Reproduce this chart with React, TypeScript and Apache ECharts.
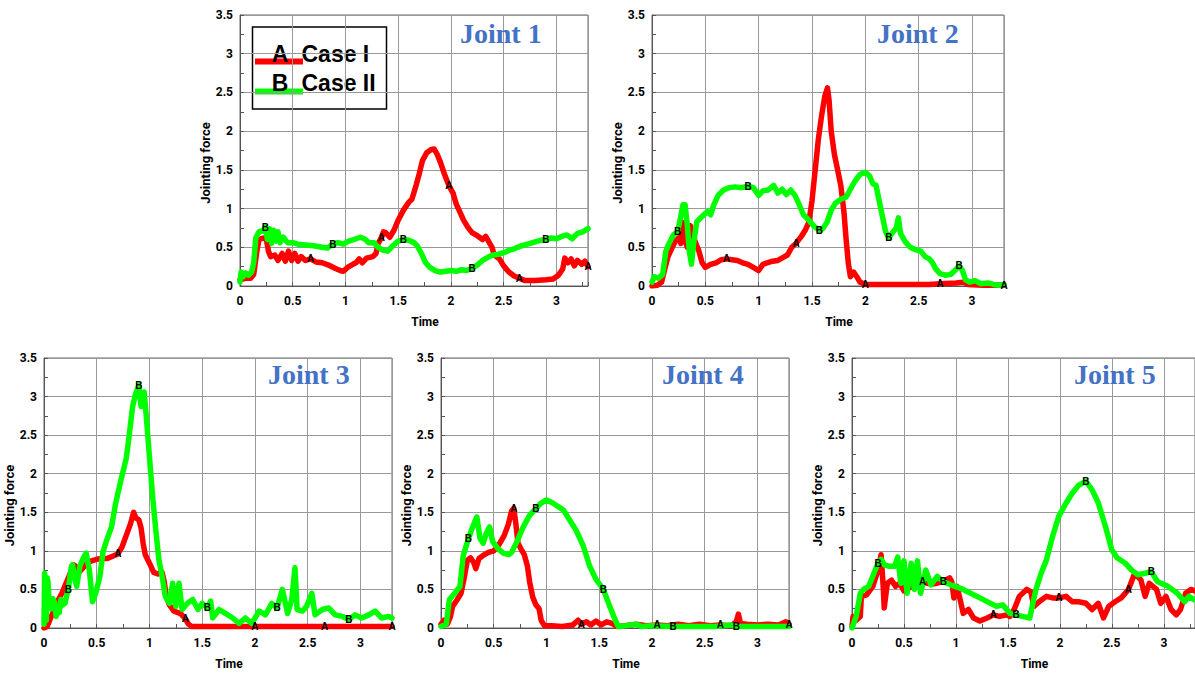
import React, { useEffect, useRef } from 'react';
import * as echarts from 'echarts';

// ---------- data: [time, jointing force] ----------
const J1_CASE1: number[][] = [[0,0.08],[0.05,0.1],[0.1,0.1],[0.13,0.15],[0.16,0.45],[0.18,0.6],[0.22,0.62],[0.25,0.6],[0.27,0.45],[0.29,0.38],[0.33,0.4],[0.36,0.33],[0.4,0.42],[0.43,0.32],[0.46,0.45],[0.49,0.33],[0.52,0.42],[0.55,0.32],[0.58,0.38],[0.62,0.33],[0.67,0.35],[0.72,0.31],[0.78,0.3],[0.84,0.27],[0.9,0.23],[0.95,0.2],[0.98,0.19],[1.02,0.24],[1.07,0.28],[1.1,0.3],[1.13,0.35],[1.16,0.3],[1.2,0.36],[1.26,0.38],[1.29,0.42],[1.31,0.55],[1.34,0.62],[1.36,0.7],[1.38,0.69],[1.42,0.63],[1.46,0.72],[1.5,0.85],[1.55,0.98],[1.6,1.08],[1.63,1.12],[1.67,1.3],[1.7,1.45],[1.73,1.62],[1.77,1.72],[1.81,1.76],[1.84,1.77],[1.87,1.7],[1.9,1.6],[1.94,1.44],[1.98,1.3],[2.02,1.2],[2.05,1.06],[2.09,0.94],[2.12,0.85],[2.16,0.76],[2.2,0.69],[2.25,0.65],[2.3,0.6],[2.33,0.64],[2.36,0.57],[2.39,0.5],[2.41,0.4],[2.46,0.35],[2.5,0.26],[2.55,0.18],[2.6,0.13],[2.65,0.1],[2.7,0.07],[2.8,0.07],[2.9,0.08],[2.97,0.09],[3.02,0.14],[3.06,0.22],[3.08,0.36],[3.11,0.3],[3.14,0.35],[3.17,0.26],[3.2,0.33],[3.24,0.28],[3.27,0.32],[3.3,0.25]];
const J1_CASE2: number[][] = [[0,0.05],[0.01,0.18],[0.03,0.12],[0.05,0.17],[0.08,0.14],[0.11,0.18],[0.13,0.3],[0.15,0.62],[0.18,0.7],[0.22,0.72],[0.24,0.76],[0.26,0.6],[0.28,0.74],[0.3,0.55],[0.32,0.72],[0.34,0.58],[0.36,0.7],[0.38,0.56],[0.41,0.63],[0.45,0.56],[0.5,0.56],[0.55,0.54],[0.62,0.53],[0.7,0.52],[0.78,0.5],[0.83,0.49],[0.88,0.54],[0.93,0.56],[0.98,0.54],[1.03,0.58],[1.08,0.6],[1.14,0.63],[1.18,0.61],[1.22,0.56],[1.27,0.56],[1.31,0.5],[1.36,0.46],[1.4,0.45],[1.45,0.52],[1.5,0.58],[1.55,0.6],[1.6,0.59],[1.65,0.56],[1.68,0.52],[1.72,0.42],[1.76,0.3],[1.8,0.24],[1.85,0.2],[1.9,0.18],[1.95,0.19],[2.0,0.2],[2.05,0.19],[2.1,0.21],[2.15,0.2],[2.2,0.23],[2.25,0.27],[2.3,0.33],[2.35,0.37],[2.4,0.4],[2.45,0.41],[2.5,0.43],[2.55,0.46],[2.6,0.48],[2.65,0.51],[2.7,0.53],[2.75,0.55],[2.8,0.57],[2.85,0.59],[2.9,0.6],[2.95,0.62],[3.0,0.61],[3.05,0.64],[3.1,0.66],[3.15,0.61],[3.2,0.68],[3.25,0.7],[3.3,0.74]];

const J2_CASE1: number[][] = [[0,0],[0.05,0.01],[0.09,0.05],[0.12,0.22],[0.15,0.38],[0.19,0.5],[0.22,0.58],[0.25,0.62],[0.27,0.55],[0.29,0.82],[0.31,0.6],[0.33,0.5],[0.36,0.78],[0.38,0.68],[0.41,0.55],[0.44,0.45],[0.47,0.3],[0.5,0.24],[0.55,0.28],[0.6,0.3],[0.65,0.34],[0.7,0.35],[0.75,0.34],[0.8,0.33],[0.85,0.3],[0.9,0.28],[0.95,0.24],[1.0,0.2],[1.04,0.28],[1.08,0.3],[1.13,0.32],[1.18,0.33],[1.23,0.37],[1.27,0.4],[1.31,0.5],[1.35,0.55],[1.4,0.64],[1.44,0.73],[1.47,0.82],[1.5,1.1],[1.53,1.5],[1.56,1.9],[1.59,2.2],[1.62,2.45],[1.645,2.56],[1.66,2.4],[1.68,2.0],[1.71,1.7],[1.74,1.5],[1.77,1.3],[1.8,0.95],[1.82,0.6],[1.84,0.3],[1.86,0.12],[1.89,0.18],[1.92,0.12],[1.95,0.05],[2.0,0.02],[2.2,0.02],[2.4,0.02],[2.6,0.02],[2.7,0.03],[2.85,0.04],[2.92,0.05],[2.96,0.02],[3.1,0.01],[3.3,0.01]];
const J2_CASE2: number[][] = [[0,0.05],[0.02,0.12],[0.06,0.1],[0.1,0.15],[0.13,0.45],[0.16,0.55],[0.2,0.66],[0.24,0.7],[0.27,0.9],[0.29,1.05],[0.31,1.05],[0.33,0.8],[0.35,0.45],[0.37,0.28],[0.39,0.55],[0.42,0.83],[0.47,0.9],[0.52,0.96],[0.55,0.92],[0.58,1.05],[0.62,1.17],[0.67,1.24],[0.72,1.27],[0.78,1.28],[0.84,1.27],[0.9,1.29],[0.95,1.27],[1.0,1.17],[1.04,1.23],[1.09,1.24],[1.14,1.3],[1.18,1.2],[1.22,1.25],[1.26,1.18],[1.3,1.24],[1.34,1.17],[1.38,1.05],[1.42,0.92],[1.47,0.85],[1.52,0.77],[1.57,0.72],[1.6,0.74],[1.64,0.82],[1.68,0.98],[1.72,1.07],[1.77,1.12],[1.82,1.15],[1.86,1.25],[1.9,1.35],[1.95,1.44],[2.0,1.47],[2.04,1.42],[2.07,1.32],[2.1,1.3],[2.13,1.1],[2.16,0.9],[2.19,0.7],[2.22,0.62],[2.26,0.7],[2.29,0.75],[2.31,0.88],[2.33,0.68],[2.37,0.58],[2.42,0.5],[2.47,0.47],[2.52,0.45],[2.56,0.38],[2.6,0.35],[2.63,0.3],[2.66,0.22],[2.7,0.16],[2.75,0.14],[2.8,0.15],[2.84,0.2],[2.88,0.26],[2.91,0.2],[2.94,0.08],[2.98,0.05],[3.03,0.07],[3.08,0.03],[3.15,0.04],[3.2,0.02],[3.25,0.01],[3.3,0.02]];

const J3_CASE1: number[][] = [[0,0],[0.03,0.02],[0.06,0.12],[0.1,0.25],[0.13,0.35],[0.17,0.45],[0.2,0.55],[0.24,0.68],[0.28,0.82],[0.3,0.8],[0.33,0.72],[0.37,0.78],[0.41,0.84],[0.45,0.87],[0.5,0.89],[0.55,0.9],[0.6,0.9],[0.65,0.93],[0.7,0.96],[0.74,1.05],[0.78,1.2],[0.82,1.35],[0.85,1.5],[0.87,1.43],[0.9,1.4],[0.92,1.3],[0.94,1.1],[0.96,0.95],[1.0,0.84],[1.04,0.72],[1.08,0.7],[1.12,0.72],[1.14,0.6],[1.16,0.4],[1.19,0.3],[1.23,0.22],[1.27,0.2],[1.3,0.18],[1.34,0.12],[1.37,0.05],[1.4,0.02],[1.6,0.02],[2.0,0.02],[2.33,0.02],[2.66,0.02],[3.0,0.02],[3.3,0.02]];
const J3_CASE2: number[][] = [[0,0.05],[0.006,0.71],[0.015,0.5],[0.022,0.1],[0.03,0.65],[0.038,0.6],[0.05,0.3],[0.069,0.25],[0.085,0.38],[0.1,0.33],[0.115,0.15],[0.13,0.27],[0.145,0.2],[0.16,0.37],[0.18,0.3],[0.2,0.32],[0.215,0.42],[0.23,0.5],[0.26,0.8],[0.27,0.82],[0.29,0.65],[0.31,0.54],[0.34,0.8],[0.37,0.9],[0.4,0.97],[0.43,0.75],[0.46,0.34],[0.49,0.45],[0.53,0.67],[0.56,0.99],[0.59,1.12],[0.64,1.31],[0.68,1.62],[0.73,1.92],[0.78,2.2],[0.81,2.52],[0.84,2.87],[0.87,3.04],[0.9,3.15],[0.92,2.87],[0.95,3.06],[0.97,2.74],[1.0,2.22],[1.03,1.7],[1.06,1.27],[1.09,0.88],[1.12,0.67],[1.15,0.41],[1.19,0.32],[1.22,0.58],[1.25,0.28],[1.28,0.58],[1.31,0.24],[1.36,0.32],[1.41,0.37],[1.46,0.24],[1.5,0.32],[1.55,0.26],[1.58,0.35],[1.6,0.13],[1.66,0.24],[1.72,0.19],[1.79,0.13],[1.85,0.06],[1.91,0.13],[1.97,0.06],[2.04,0.22],[2.1,0.17],[2.16,0.32],[2.21,0.26],[2.26,0.5],[2.31,0.19],[2.35,0.37],[2.38,0.78],[2.4,0.24],[2.45,0.22],[2.49,0.28],[2.54,0.45],[2.57,0.17],[2.64,0.24],[2.7,0.26],[2.76,0.17],[2.83,0.15],[2.89,0.11],[2.95,0.17],[3.01,0.13],[3.08,0.17],[3.14,0.22],[3.2,0.13],[3.27,0.15],[3.3,0.13]];

const J4_CASE1: number[][] = [[0,0.05],[0.03,0.1],[0.06,0.05],[0.09,0.15],[0.11,0.28],[0.15,0.36],[0.19,0.45],[0.22,0.65],[0.25,0.88],[0.28,0.91],[0.31,0.85],[0.33,0.77],[0.36,0.9],[0.4,0.94],[0.45,0.98],[0.5,1.0],[0.55,1.08],[0.6,1.2],[0.64,1.35],[0.67,1.52],[0.69,1.55],[0.71,1.35],[0.73,1.1],[0.76,1.02],[0.79,0.95],[0.82,0.8],[0.84,0.6],[0.87,0.4],[0.9,0.3],[0.93,0.25],[0.95,0.1],[0.98,0.03],[1.05,0.03],[1.15,0.02],[1.25,0.04],[1.3,0.1],[1.33,0.05],[1.38,0.08],[1.42,0.04],[1.47,0.09],[1.52,0.04],[1.57,0.08],[1.62,0.06],[1.67,0.02],[1.75,0.03],[1.85,0.05],[1.95,0.03],[2.05,0.04],[2.15,0.03],[2.25,0.05],[2.35,0.03],[2.45,0.05],[2.55,0.03],[2.65,0.04],[2.75,0.03],[2.8,0.08],[2.82,0.18],[2.84,0.06],[2.9,0.05],[3.0,0.04],[3.1,0.05],[3.2,0.04],[3.27,0.08],[3.3,0.05]];
const J4_CASE2: number[][] = [[0,0.02],[0.05,0.05],[0.08,0.37],[0.13,0.45],[0.18,0.54],[0.21,0.93],[0.26,1.16],[0.3,1.31],[0.34,1.44],[0.37,1.16],[0.4,1.1],[0.43,1.23],[0.46,1.31],[0.49,1.12],[0.54,1.03],[0.59,0.97],[0.64,0.95],[0.67,0.98],[0.72,1.12],[0.78,1.31],[0.84,1.46],[0.9,1.55],[0.95,1.62],[1.0,1.66],[1.06,1.62],[1.16,1.53],[1.22,1.4],[1.28,1.27],[1.35,1.06],[1.41,0.8],[1.47,0.63],[1.54,0.5],[1.6,0.28],[1.65,0.11],[1.68,0.02],[1.75,0.03],[1.85,0.05],[1.9,0.02],[2.0,0.03],[2.2,0.02],[2.4,0.02],[2.6,0.02],[2.75,0.04],[2.8,0.02],[3.0,0.02],[3.3,0.02]];

const J5_CASE1: number[][] = [[0,0.02],[0.01,0.15],[0.04,0.1],[0.08,0.15],[0.09,0.41],[0.14,0.43],[0.2,0.54],[0.25,0.75],[0.28,0.95],[0.3,0.54],[0.31,0.26],[0.34,0.58],[0.38,0.62],[0.42,0.54],[0.46,0.58],[0.5,0.48],[0.55,0.52],[0.6,0.55],[0.65,0.58],[0.68,0.6],[0.72,0.58],[0.77,0.57],[0.82,0.58],[0.86,0.6],[0.9,0.62],[0.94,0.65],[0.96,0.6],[0.98,0.39],[1.01,0.54],[1.04,0.37],[1.07,0.19],[1.12,0.24],[1.17,0.13],[1.23,0.09],[1.3,0.13],[1.36,0.17],[1.42,0.15],[1.49,0.17],[1.52,0.15],[1.56,0.24],[1.61,0.41],[1.68,0.5],[1.72,0.47],[1.75,0.28],[1.8,0.34],[1.87,0.41],[1.93,0.39],[1.99,0.39],[2.06,0.41],[2.12,0.34],[2.18,0.34],[2.25,0.32],[2.31,0.24],[2.37,0.32],[2.42,0.13],[2.47,0.28],[2.53,0.34],[2.59,0.39],[2.66,0.5],[2.72,0.71],[2.78,0.62],[2.82,0.41],[2.86,0.58],[2.93,0.5],[2.97,0.32],[3.02,0.41],[3.07,0.24],[3.12,0.17],[3.16,0.24],[3.21,0.45],[3.26,0.5],[3.3,0.48]];
const J5_CASE2: number[][] = [[0,0],[0.04,0.15],[0.08,0.45],[0.11,0.5],[0.16,0.54],[0.2,0.67],[0.25,0.84],[0.28,0.89],[0.31,0.82],[0.36,0.8],[0.41,0.8],[0.44,0.92],[0.47,0.58],[0.5,0.87],[0.53,0.45],[0.57,0.84],[0.6,0.5],[0.63,0.87],[0.66,0.45],[0.71,0.75],[0.76,0.56],[0.82,0.67],[0.88,0.6],[0.95,0.56],[1.07,0.5],[1.23,0.39],[1.39,0.28],[1.45,0.3],[1.52,0.19],[1.58,0.17],[1.64,0.15],[1.71,0.13],[1.74,0.32],[1.77,0.5],[1.82,0.71],[1.87,0.88],[1.93,1.19],[1.99,1.45],[2.06,1.62],[2.12,1.75],[2.18,1.85],[2.25,1.9],[2.31,1.79],[2.37,1.62],[2.44,1.31],[2.5,1.01],[2.55,0.91],[2.63,0.84],[2.69,0.75],[2.75,0.69],[2.82,0.71],[2.88,0.73],[2.94,0.6],[3.04,0.54],[3.13,0.45],[3.2,0.34],[3.24,0.41],[3.3,0.36]];

const TITLES = ['Joint 1', 'Joint 2', 'Joint 3', 'Joint 4', 'Joint 5'];
const CASE_NAMES = ['Case I', 'Case II'];
const CASE_LETTERS = ['A', 'B'];
const CASE1 = [J1_CASE1, J2_CASE1, J3_CASE1, J4_CASE1, J5_CASE1];
const CASE2 = [J1_CASE2, J2_CASE2, J3_CASE2, J4_CASE2, J5_CASE2];
const MARK_A = [0.68, 1.34, 2.0, 2.66, 3.3];
const MARK_B = [0.24, 0.9, 1.56, 2.22, 2.88];
const X_MAX = 3.3;
const Y_MAX = 3.5;

// ---------- layout ----------
const PAGE_W = 1195;
const GRIDS = [
  { left: 240, top: 15, width: 348, height: 271 },
  { left: 652, top: 15, width: 352, height: 271 },
  { left: 44, top: 358, width: 348, height: 270 },
  { left: 441, top: 358, width: 348, height: 270 },
  { left: 852, top: 358, width: 347, height: 270 },
];
const TITLE_POS = [
  [460, 36], [877, 36], [268, 377], [662, 377], [1074, 377],
];
const RED = '#ff0000';
const GREEN = '#00ff00';

function nearest(data: number[][], t: number): number[] {
  let best = data[0];
  for (const p of data) if (Math.abs(p[0] - t) < Math.abs(best[0] - t)) best = p;
  return best;
}

export default function App() {
  const ref = useRef<HTMLDivElement>(null);
  useEffect(() => {
    if (!ref.current) return;
    const chart = echarts.init(ref.current, null, { renderer: 'svg' });
    const tickStyle = { fontFamily: 'Roboto', fontWeight: 'bold' as const, fontSize: 12, color: '#000' };
    const xAxis: any[] = [];
    const yAxis: any[] = [];
    const series: any[] = [];
    const graphic: any[] = [];
    GRIDS.forEach((g, i) => {
      xAxis.push({
        type: 'value', gridIndex: i, min: 0, max: X_MAX, interval: 0.5,
        name: 'Time', nameLocation: 'middle', nameGap: 30,
        nameTextStyle: { ...tickStyle, padding: [0, 0, 0, 22] },
        axisLine: { show: true, lineStyle: { color: '#555', width: 1 } },
        axisTick: { show: true, inside: true, length: 4, lineStyle: { color: '#555' } },
        minorTick: { show: true, splitNumber: 2, length: 4, lineStyle: { color: '#555' } },
        axisLabel: { ...tickStyle, margin: 9, showMaxLabel: false },
        splitLine: { show: true, lineStyle: { color: '#999', width: 1 } },
      });
      yAxis.push({
        type: 'value', gridIndex: i, min: 0, max: Y_MAX, interval: 0.5,
        name: 'Jointing force', nameLocation: 'middle', nameGap: 25, nameRotate: 90,
        nameTextStyle: { ...tickStyle, fontSize: 13, padding: [0, 25, 0, 0] },
        axisLine: { show: true, lineStyle: { color: '#555', width: 1 } },
        axisTick: { show: true, inside: true, length: 4, lineStyle: { color: '#555' } },
        minorTick: { show: true, splitNumber: 2, length: 4, lineStyle: { color: '#555' } },
        axisLabel: { ...tickStyle, margin: 7 },
        splitLine: { show: true, lineStyle: { color: '#999', width: 1 } },
      });
      const sets = [CASE1[i], CASE2[i]];
      const colors = [RED, GREEN];
      const marks = [MARK_A, MARK_B];
      const visibleMax = ((PAGE_W - g.left) / g.width) * X_MAX;
      sets.forEach((d, k) => {
        series.push({
          type: 'line', name: CASE_NAMES[k], xAxisIndex: i, yAxisIndex: i, data: d,
          showSymbol: false, z: 2 + k,
          lineStyle: { color: colors[k], width: 5.5, join: 'round', cap: 'round' },
          itemStyle: { color: colors[k] },
        });
      });
      sets.forEach((d, k) => {
        const letter = CASE_LETTERS[k];
        series.push({
          type: 'custom', name: CASE_NAMES[k] + ' marks', xAxisIndex: i, yAxisIndex: i,
          coordinateSystem: 'cartesian2d', z: 10, clip: false,
          data: marks[k].filter((t) => t <= visibleMax - 0.02).map((t) => nearest(d, t)),
          renderItem: (_p: any, api: any) => {
            const pt = api.coord([api.value(0), api.value(1)]);
            return {
              type: 'text', x: pt[0], y: pt[1],
              style: {
                text: letter, fill: '#000', fontSize: 10, fontWeight: 'bold', fontFamily: 'Liberation Sans',
                align: 'center', verticalAlign: 'middle',
              },
            };
          },
        });
      });
      graphic.push({
        type: 'text', left: TITLE_POS[i][0], top: TITLE_POS[i][1] - 17, z: 100,
        style: {
          text: TITLES[i], fontFamily: 'Liberation Serif', fontWeight: 'bold', fontSize: 28,
          fill: '#4472C4',
        },
      });
    });
    // legend box in Joint 1
    const legendFont = { fontFamily: 'Liberation Sans', fontWeight: 'bold', fontSize: 23, fill: '#000', verticalAlign: 'middle' };
    graphic.push({
      type: 'group', z: 100,
      children: [
        { type: 'rect', shape: { x: 252.5, y: 27, width: 134, height: 82 }, style: { fill: '#fff', stroke: '#000', lineWidth: 1.5 } },
        { type: 'line', shape: { x1: 255, y1: 61.5, x2: 303, y2: 61.5 }, style: { stroke: RED, lineWidth: 6 } },
        { type: 'line', shape: { x1: 255, y1: 91.5, x2: 303, y2: 91.5 }, style: { stroke: GREEN, lineWidth: 6 } },
        { type: 'text', x: 280, y: 54, style: { ...legendFont, text: CASE_LETTERS[0], align: 'center' } },
        { type: 'text', x: 301.5, y: 54, style: { ...legendFont, text: CASE_NAMES[0], align: 'left' } },
        { type: 'text', x: 280, y: 83, style: { ...legendFont, text: CASE_LETTERS[1], align: 'center' } },
        { type: 'text', x: 301.5, y: 83, style: { ...legendFont, text: CASE_NAMES[1], align: 'left' } },
      ],
    });
    chart.setOption({
      animation: false,
      backgroundColor: '#fff',
      grid: GRIDS.map((g) => ({ ...g, show: true, borderColor: '#666', borderWidth: 1, containLabel: false })),
      xAxis, yAxis, series, graphic,
    });
    return () => chart.dispose();
  }, []);
  return <div ref={ref} style={{ position: 'absolute', left: 0, top: 0, width: 1195, height: 675 }} />;
}
